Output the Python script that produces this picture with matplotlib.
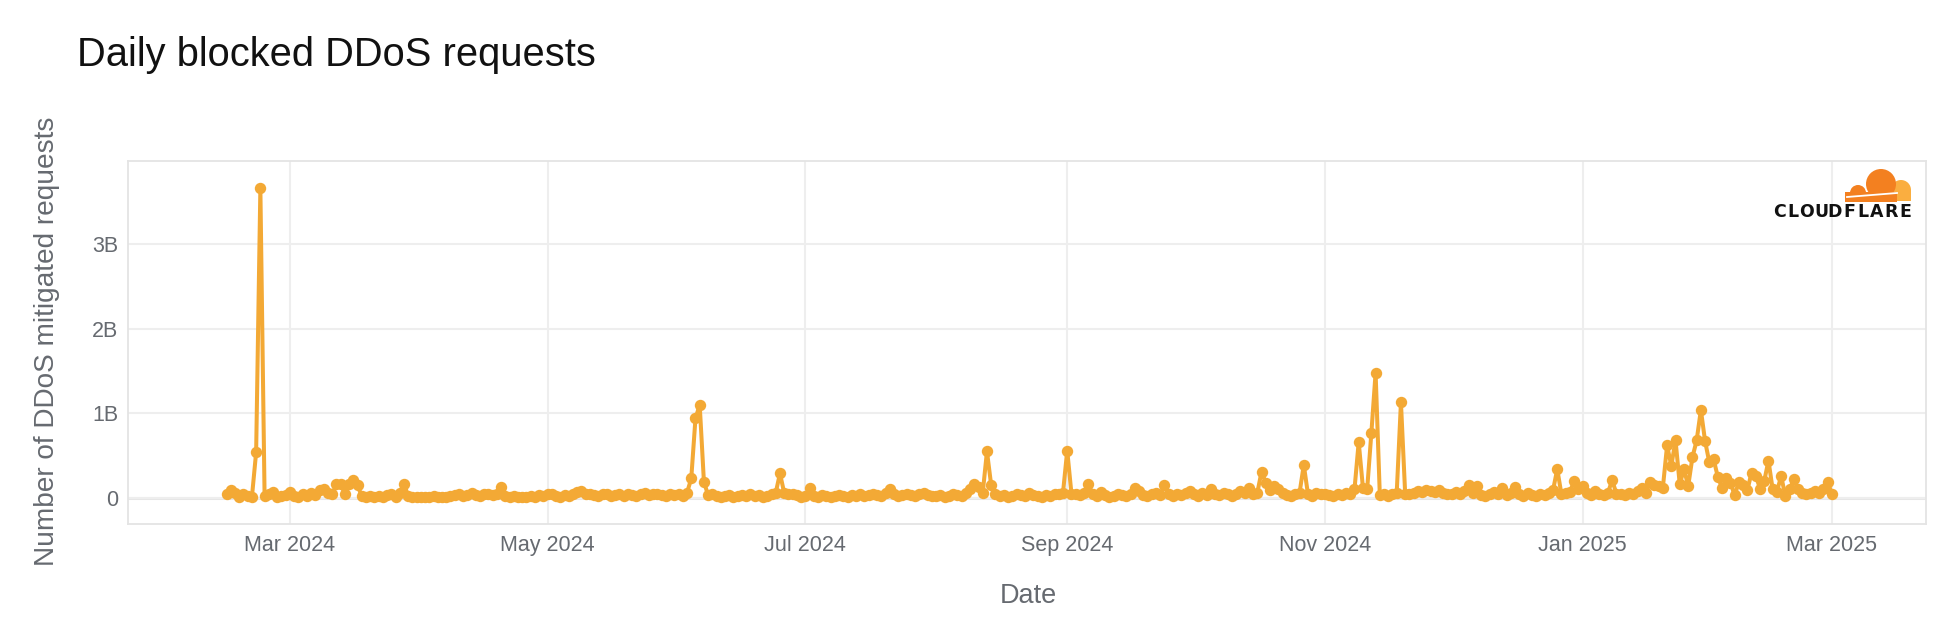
import matplotlib
matplotlib.use("Agg")
import matplotlib.pyplot as plt
import matplotlib.dates as mdates
import matplotlib.patches as mpatches
import numpy as np
import pandas as pd

# ---------------- data ----------------
start_date = "2024-02-15"
# daily blocked DDoS requests, in millions (Feb 15 2024 .. Mar 1 2025)
feb_2024 = [40, 90, 60, 10, 50, 20, 10, 540, 3660, 20, 40, 70, 10, 20, 30]
mar_2024 = [70, 20, 10, 40, 20, 60, 30, 90, 100, 60, 40, 160, 160, 50, 170, 210,
            150, 20, 10, 20, 10, 20, 5, 30, 50, 10, 60, 170, 20, 10, 10]
apr_2024 = [10, 5, 10, 20, 10, 5, 10, 20, 30, 50, 20, 30, 60, 30, 20, 40, 50, 30,
            50, 130, 20, 10, 20, 10, 5, 10, 20, 10, 30, 20]
may_2024 = [50, 40, 20, 10, 30, 20, 40, 70, 80, 40, 50, 30, 20, 40, 50, 20, 30,
            40, 20, 50, 30, 20, 40, 60, 30, 40, 50, 30, 20, 40, 30]
jun_2024 = [40, 20, 60, 230, 940, 1100, 190, 30, 40, 20, 10, 20, 30, 10, 20, 30,
            20, 40, 20, 30, 10, 20, 40, 60, 290, 60, 50, 40, 30, 10]
jul_2024 = [20, 120, 20, 10, 30, 20, 10, 20, 30, 20, 10, 30, 20, 40, 20, 30, 50,
            30, 20, 60, 100, 40, 20, 30, 50, 30, 20, 40, 60, 30, 20]
aug_2024 = [20, 30, 10, 20, 40, 30, 20, 60, 110, 170, 130, 60, 550, 150, 40, 20,
            30, 10, 20, 40, 30, 20, 60, 30, 20, 10, 30, 20, 50, 40, 60]
sep_2024 = [560, 50, 40, 30, 60, 170, 40, 20, 70, 30, 10, 20, 40, 30, 20, 50, 120,
            80, 30, 20, 40, 60, 30, 150, 50, 20, 40, 30, 60, 80]
oct_2024 = [40, 20, 60, 30, 100, 50, 30, 60, 40, 20, 50, 80, 60, 120, 40, 60, 310,
            180, 90, 140, 110, 60, 30, 20, 40, 60, 390, 40, 20, 60, 40]
nov_2024 = [50, 30, 20, 50, 30, 60, 40, 100, 660, 120, 100, 770, 1480, 30, 50, 20,
            40, 60, 1130, 50, 40, 60, 80, 70, 90, 80, 70, 90, 60, 50]
dec_2024 = [40, 70, 50, 80, 150, 60, 140, 30, 20, 50, 70, 40, 120, 30, 60, 130, 40,
            20, 60, 30, 20, 50, 30, 60, 90, 340, 40, 60, 70, 200, 100]
jan_2025 = [140, 60, 30, 80, 50, 30, 60, 210, 50, 40, 30, 60, 40, 80, 120, 60, 190,
            150, 140, 120, 620, 380, 680, 160, 340, 140, 480, 680, 1040, 670, 420]
feb_2025 = [460, 250, 120, 230, 180, 30, 190, 150, 90, 300, 260, 110, 200, 440,
            100, 70, 260, 20, 100, 220, 100, 60, 50, 60, 80, 60, 110, 190]
mar_2025 = [50]

values_millions = (feb_2024 + mar_2024 + apr_2024 + may_2024 + jun_2024 + jul_2024 +
                   aug_2024 + sep_2024 + oct_2024 + nov_2024 + dec_2024 + jan_2025 +
                   feb_2025 + mar_2025)
dates = pd.date_range(start_date, periods=len(values_millions), freq="D")
values = np.array(values_millions, dtype=float) * 1e6

y_ticks = [0, 1e9, 2e9, 3e9]
y_tick_labels = ["0", "1B", "2B", "3B"]
x_ticks = pd.to_datetime(["2024-03-01", "2024-05-01", "2024-07-01", "2024-09-01",
                          "2024-11-01", "2025-01-01", "2025-03-01"])

title = "Daily blocked DDoS requests"
x_title = "Date"
y_title = "Number of DDoS mitigated requests"

# ---------------- figure ----------------
W, H = 1946, 620
plt.rcParams["font.family"] = ["Liberation Sans", "DejaVu Sans"]
fig = plt.figure(figsize=(W / 100, H / 100), dpi=100)
fig.patch.set_facecolor("white")

L, R, T, B = 128, 1926, 161, 524
ax = fig.add_axes([L / W, 1 - B / H, (R - L) / W, (B - T) / H])

orange = "#F3A935"
grid_c = "#eeeeee"
tick_c = "#666a70"

ax.plot(dates, values, color=orange, lw=2.9, marker="o", ms=8.2,
        markeredgewidth=0, zorder=3, solid_joinstyle="round")

ax.set_xlim(pd.Timestamp("2024-01-22 16:00"), pd.Timestamp("2025-03-23 07:00"))
ax.set_ylim(-0.309e9, 3.985e9)

ax.set_yticks(y_ticks)
ax.set_yticklabels(y_tick_labels)
ax.set_xticks(x_ticks)
ax.xaxis.set_major_formatter(mdates.DateFormatter("%b %Y"))

ax.grid(True, color=grid_c, lw=1.5, zorder=0)
ax.axhline(0, color="#e6e6e6", lw=2.2, zorder=1)
ax.tick_params(axis="both", length=0, labelsize=15.5, colors=tick_c)
ax.tick_params(axis="x", pad=8)
ax.tick_params(axis="y", pad=7)
for s in ax.spines.values():
    s.set_color("#e4e4e4")
    s.set_linewidth(1.3)

fig.text(77 / W, 1 - 66 / H, title, fontsize=28.7, color="#111111", va="baseline", ha="left")
fig.text(1028 / W, 1 - 596 / H, x_title, fontsize=19.5, color=tick_c, ha="center", va="center")
fig.text(47 / W, 1 - 341 / H, y_title, fontsize=20.2, color=tick_c, ha="center",
         va="center", rotation=90)

# ---------------- Cloudflare logo ----------------
lax = fig.add_axes([0, 0, 1, 1], zorder=5)
lax.set_xlim(0, W)
lax.set_ylim(H, 0)
lax.axis("off")
dark_o = "#F38020"
light_o = "#FAAE40"
lax.add_patch(mpatches.Circle((1901, 190), 10, color=light_o, lw=0))
lax.add_patch(mpatches.Rectangle((1888, 190), 23, 11, color=light_o, lw=0))
lax.add_patch(mpatches.Circle((1881, 184), 15, color=dark_o, lw=0))
lax.add_patch(mpatches.Circle((1858, 193), 8, color=dark_o, lw=0))
lax.add_patch(mpatches.Rectangle((1845, 192), 52, 9.5, color=dark_o, lw=0))
lax.plot([1847, 1897], [197, 193], color="white", lw=1.3)
logo_text = "CLOUDFLARE"
xs = np.linspace(1779, 1905, len(logo_text))
for ch, xx in zip(logo_text, xs):
    lax.text(xx, 212, ch, fontsize=12.5, fontweight="bold", color="#111111",
             ha="center", va="center", family="DejaVu Sans")

fig.savefig("out.png", dpi=100, facecolor="white")
